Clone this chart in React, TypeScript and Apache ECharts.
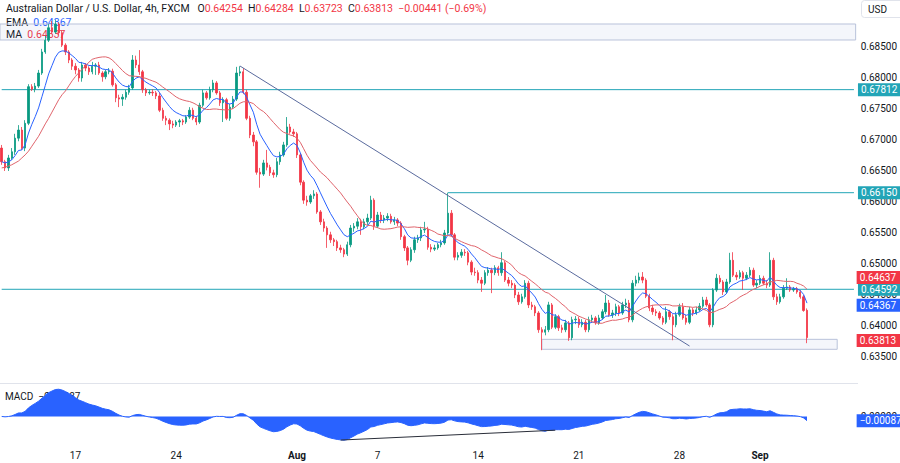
import React, { useEffect, useRef } from "react";
import * as echarts from "echarts";

// 4h candles, each [open, close, low, high]
const wkJul11: number[][] = [
  [0.6687, 0.6665, 0.6660, 0.6692], [0.6665, 0.6655, 0.6650, 0.6668], [0.6655, 0.6671, 0.6650, 0.6676],
  [0.6671, 0.6681, 0.6668, 0.6687], [0.6681, 0.6703, 0.6676, 0.6710], [0.6703, 0.6716, 0.6698, 0.6724],
  [0.6716, 0.6687, 0.6684, 0.6721], [0.6687, 0.6727, 0.6682, 0.6732], [0.6727, 0.6786, 0.6724, 0.6790],
  [0.6786, 0.6782, 0.6779, 0.6790], [0.6782, 0.6787, 0.6777, 0.6792], [0.6787, 0.6808, 0.6784, 0.6813],
  [0.6808, 0.6842, 0.6805, 0.6847], [0.6842, 0.6861, 0.6839, 0.6868], [0.6861, 0.6881, 0.6858, 0.6887],
  [0.6881, 0.6874, 0.6871, 0.6892], [0.6874, 0.6887, 0.6871, 0.6894], [0.6887, 0.6873, 0.6869, 0.6890],
  [0.6873, 0.6853, 0.6850, 0.6876], [0.6853, 0.6842, 0.6837, 0.6856], [0.6842, 0.6829, 0.6824, 0.6845],
  [0.6829, 0.6819, 0.6813, 0.6832],
];
const wkJul17: number[][] = [
  [0.6819, 0.6813, 0.6806, 0.6824], [0.6813, 0.6800, 0.6794, 0.6816], [0.6800, 0.6821, 0.6794, 0.6826],
  [0.6821, 0.6816, 0.6811, 0.6824], [0.6816, 0.6810, 0.6805, 0.6819], [0.6810, 0.6819, 0.6806, 0.6826],
  [0.6819, 0.6821, 0.6805, 0.6824], [0.6821, 0.6808, 0.6805, 0.6826], [0.6808, 0.6802, 0.6794, 0.6811],
  [0.6802, 0.6810, 0.6798, 0.6813], [0.6810, 0.6811, 0.6806, 0.6816], [0.6811, 0.6789, 0.6786, 0.6815],
  [0.6789, 0.6768, 0.6761, 0.6792], [0.6768, 0.6766, 0.6753, 0.6773], [0.6766, 0.6769, 0.6755, 0.6774],
  [0.6769, 0.6777, 0.6765, 0.6781], [0.6777, 0.6784, 0.6773, 0.6789], [0.6784, 0.6829, 0.6781, 0.6837],
  [0.6829, 0.6821, 0.6816, 0.6836], [0.6821, 0.6810, 0.6805, 0.6845], [0.6810, 0.6781, 0.6776, 0.6813],
  [0.6781, 0.6776, 0.6771, 0.6784], [0.6776, 0.6777, 0.6773, 0.6781], [0.6777, 0.6776, 0.6771, 0.6782],
  [0.6776, 0.6771, 0.6766, 0.6779], [0.6771, 0.6748, 0.6745, 0.6777], [0.6748, 0.6735, 0.6731, 0.6752],
  [0.6735, 0.6732, 0.6724, 0.6739], [0.6732, 0.6726, 0.6716, 0.6735], [0.6726, 0.6724, 0.6719, 0.6731],
];
const wkJul24: number[][] = [
  [0.6724, 0.6729, 0.6721, 0.6732], [0.6729, 0.6731, 0.6721, 0.6734], [0.6731, 0.6729, 0.6724, 0.6734],
  [0.6729, 0.6737, 0.6726, 0.6740], [0.6737, 0.6748, 0.6734, 0.6753], [0.6748, 0.6735, 0.6732, 0.6752],
  [0.6735, 0.6729, 0.6724, 0.6739], [0.6729, 0.6756, 0.6726, 0.6760], [0.6756, 0.6776, 0.6753, 0.6781],
  [0.6776, 0.6768, 0.6765, 0.6779], [0.6768, 0.6781, 0.6765, 0.6786], [0.6781, 0.6792, 0.6777, 0.6797],
  [0.6792, 0.6776, 0.6773, 0.6795], [0.6776, 0.6760, 0.6755, 0.6779], [0.6760, 0.6765, 0.6729, 0.6769],
  [0.6765, 0.6735, 0.6732, 0.6768], [0.6735, 0.6753, 0.6731, 0.6758], [0.6753, 0.6766, 0.6750, 0.6771],
  [0.6766, 0.6808, 0.6763, 0.6818], [0.6808, 0.6810, 0.6803, 0.6819], [0.6810, 0.6777, 0.6774, 0.6816],
  [0.6777, 0.6735, 0.6732, 0.6781], [0.6735, 0.6708, 0.6703, 0.6739], [0.6708, 0.6697, 0.6690, 0.6713],
  [0.6697, 0.6648, 0.6644, 0.6700], [0.6648, 0.6645, 0.6623, 0.6655], [0.6645, 0.6663, 0.6642, 0.6668],
  [0.6663, 0.6656, 0.6651, 0.6684], [0.6656, 0.6647, 0.6642, 0.6660], [0.6647, 0.6644, 0.6639, 0.6652],
];
const wkJul31: number[][] = [
  [0.6644, 0.6665, 0.6640, 0.6671], [0.6665, 0.6676, 0.6660, 0.6681], [0.6676, 0.6692, 0.6673, 0.6697],
  [0.6692, 0.6721, 0.6689, 0.6737], [0.6721, 0.6713, 0.6710, 0.6726], [0.6713, 0.6710, 0.6705, 0.6718],
  [0.6710, 0.6676, 0.6671, 0.6713], [0.6676, 0.6632, 0.6627, 0.6679], [0.6632, 0.6603, 0.6597, 0.6635],
  [0.6603, 0.6600, 0.6594, 0.6610], [0.6600, 0.6610, 0.6597, 0.6613], [0.6610, 0.6613, 0.6605, 0.6619],
  [0.6613, 0.6584, 0.6581, 0.6616], [0.6584, 0.6568, 0.6563, 0.6587], [0.6568, 0.6558, 0.6552, 0.6573],
  [0.6558, 0.6547, 0.6526, 0.6561], [0.6547, 0.6539, 0.6534, 0.6552], [0.6539, 0.6536, 0.6529, 0.6542],
  [0.6536, 0.6526, 0.6521, 0.6539], [0.6526, 0.6523, 0.6518, 0.6531], [0.6523, 0.6516, 0.6511, 0.6526],
  [0.6516, 0.6531, 0.6513, 0.6536], [0.6531, 0.6558, 0.6527, 0.6563], [0.6558, 0.6561, 0.6552, 0.6566],
  [0.6561, 0.6568, 0.6556, 0.6574], [0.6568, 0.6560, 0.6547, 0.6573], [0.6560, 0.6568, 0.6556, 0.6573],
  [0.6568, 0.6574, 0.6563, 0.6581], [0.6574, 0.6603, 0.6571, 0.6610], [0.6603, 0.6561, 0.6555, 0.6606],
];
const wkAug7: number[][] = [
  [0.6561, 0.6579, 0.6558, 0.6584], [0.6579, 0.6571, 0.6566, 0.6584], [0.6571, 0.6574, 0.6566, 0.6579],
  [0.6574, 0.6577, 0.6569, 0.6582], [0.6577, 0.6568, 0.6565, 0.6581], [0.6568, 0.6571, 0.6563, 0.6576],
  [0.6571, 0.6566, 0.6561, 0.6574], [0.6566, 0.6544, 0.6539, 0.6569], [0.6544, 0.6526, 0.6521, 0.6547],
  [0.6526, 0.6506, 0.6498, 0.6529], [0.6506, 0.6523, 0.6503, 0.6527], [0.6523, 0.6539, 0.6518, 0.6544],
  [0.6539, 0.6542, 0.6534, 0.6547], [0.6542, 0.6555, 0.6537, 0.6560], [0.6555, 0.6556, 0.6550, 0.6568],
  [0.6556, 0.6527, 0.6523, 0.6560], [0.6527, 0.6524, 0.6519, 0.6532], [0.6524, 0.6526, 0.6521, 0.6531],
  [0.6526, 0.6531, 0.6523, 0.6534], [0.6531, 0.6534, 0.6527, 0.6539], [0.6534, 0.6550, 0.6531, 0.6555],
  [0.6550, 0.6582, 0.6547, 0.6615], [0.6582, 0.6547, 0.6544, 0.6587], [0.6547, 0.6511, 0.6506, 0.6550],
  [0.6511, 0.6514, 0.6506, 0.6519], [0.6514, 0.6519, 0.6510, 0.6524], [0.6519, 0.6518, 0.6513, 0.6524],
  [0.6518, 0.6503, 0.6498, 0.6521], [0.6503, 0.6487, 0.6482, 0.6506], [0.6487, 0.6486, 0.6481, 0.6494],
];
const wkAug14: number[][] = [
  [0.6486, 0.6474, 0.6469, 0.6490], [0.6474, 0.6469, 0.6455, 0.6479], [0.6469, 0.6486, 0.6466, 0.6490],
  [0.6486, 0.6490, 0.6481, 0.6495], [0.6490, 0.6486, 0.6453, 0.6494], [0.6486, 0.6494, 0.6482, 0.6498],
  [0.6494, 0.6486, 0.6481, 0.6497], [0.6486, 0.6502, 0.6481, 0.6519], [0.6502, 0.6474, 0.6471, 0.6505],
  [0.6474, 0.6469, 0.6464, 0.6479], [0.6469, 0.6466, 0.6461, 0.6474], [0.6466, 0.6450, 0.6445, 0.6469],
  [0.6450, 0.6439, 0.6434, 0.6455], [0.6439, 0.6447, 0.6436, 0.6452], [0.6447, 0.6469, 0.6444, 0.6474],
  [0.6469, 0.6434, 0.6429, 0.6473], [0.6434, 0.6431, 0.6426, 0.6439], [0.6431, 0.6421, 0.6416, 0.6434],
  [0.6421, 0.6394, 0.6389, 0.6424], [0.6394, 0.6390, 0.6361, 0.6398], [0.6390, 0.6394, 0.6385, 0.6400],
  [0.6394, 0.6434, 0.6390, 0.6439], [0.6434, 0.6398, 0.6395, 0.6437], [0.6398, 0.6415, 0.6395, 0.6419],
  [0.6415, 0.6397, 0.6392, 0.6418], [0.6397, 0.6394, 0.6389, 0.6402], [0.6394, 0.6405, 0.6390, 0.6410],
  [0.6405, 0.6381, 0.6376, 0.6408], [0.6381, 0.6410, 0.6377, 0.6415], [0.6410, 0.6411, 0.6403, 0.6416],
];
const wkAug21: number[][] = [
  [0.6411, 0.6402, 0.6397, 0.6415], [0.6402, 0.6406, 0.6398, 0.6411], [0.6406, 0.6394, 0.6390, 0.6410],
  [0.6394, 0.6410, 0.6390, 0.6415], [0.6410, 0.6413, 0.6406, 0.6418], [0.6413, 0.6405, 0.6402, 0.6416],
  [0.6405, 0.6413, 0.6402, 0.6418], [0.6413, 0.6423, 0.6410, 0.6427], [0.6423, 0.6437, 0.6419, 0.6450],
  [0.6437, 0.6418, 0.6415, 0.6442], [0.6418, 0.6421, 0.6413, 0.6426], [0.6421, 0.6431, 0.6416, 0.6436],
  [0.6431, 0.6421, 0.6416, 0.6434], [0.6421, 0.6434, 0.6418, 0.6439], [0.6434, 0.6437, 0.6429, 0.6444],
  [0.6437, 0.6410, 0.6406, 0.6442], [0.6410, 0.6469, 0.6406, 0.6474], [0.6469, 0.6474, 0.6464, 0.6481],
  [0.6474, 0.6479, 0.6469, 0.6486], [0.6479, 0.6474, 0.6469, 0.6487], [0.6474, 0.6448, 0.6445, 0.6477],
  [0.6448, 0.6429, 0.6424, 0.6452], [0.6429, 0.6423, 0.6418, 0.6434], [0.6423, 0.6421, 0.6416, 0.6427],
  [0.6421, 0.6413, 0.6410, 0.6424], [0.6413, 0.6406, 0.6402, 0.6416], [0.6406, 0.6423, 0.6403, 0.6431],
  [0.6423, 0.6415, 0.6410, 0.6426], [0.6415, 0.6402, 0.6377, 0.6419], [0.6402, 0.6418, 0.6398, 0.6423],
];
const wkAug28: number[][] = [
  [0.6418, 0.6431, 0.6415, 0.6436], [0.6431, 0.6413, 0.6410, 0.6437], [0.6413, 0.6406, 0.6402, 0.6418],
  [0.6406, 0.6426, 0.6403, 0.6431], [0.6426, 0.6421, 0.6416, 0.6429], [0.6421, 0.6426, 0.6418, 0.6431],
  [0.6426, 0.6432, 0.6423, 0.6437], [0.6432, 0.6442, 0.6429, 0.6447], [0.6442, 0.6434, 0.6431, 0.6447],
  [0.6434, 0.6402, 0.6398, 0.6437], [0.6402, 0.6458, 0.6398, 0.6461], [0.6458, 0.6477, 0.6455, 0.6484],
  [0.6477, 0.6471, 0.6468, 0.6482], [0.6471, 0.6455, 0.6450, 0.6474], [0.6455, 0.6471, 0.6452, 0.6476],
  [0.6471, 0.6506, 0.6468, 0.6518], [0.6506, 0.6482, 0.6479, 0.6519], [0.6482, 0.6479, 0.6474, 0.6487],
  [0.6479, 0.6486, 0.6476, 0.6490], [0.6486, 0.6477, 0.6458, 0.6489], [0.6477, 0.6482, 0.6474, 0.6487],
  [0.6482, 0.6490, 0.6479, 0.6495], [0.6490, 0.6466, 0.6463, 0.6494], [0.6466, 0.6469, 0.6461, 0.6474],
  [0.6469, 0.6477, 0.6466, 0.6482], [0.6477, 0.6469, 0.6466, 0.6481], [0.6469, 0.6466, 0.6461, 0.6474],
  [0.6466, 0.6506, 0.6463, 0.6519], [0.6506, 0.6447, 0.6442, 0.6510], [0.6447, 0.6439, 0.6434, 0.6452],
];
const wkSep4: number[][] = [
  [0.6439, 0.6447, 0.6436, 0.6452], [0.6447, 0.6461, 0.6444, 0.6466], [0.6461, 0.6463, 0.6458, 0.6477],
  [0.6463, 0.6458, 0.6455, 0.6466], [0.6458, 0.6460, 0.6455, 0.6463], [0.6460, 0.6455, 0.6452, 0.6463],
  [0.6455, 0.6447, 0.6444, 0.6458], [0.6447, 0.6425, 0.6423, 0.6450], [0.64254, 0.63813, 0.63723, 0.64284],
];

// MA(20) values for the first candles (before 20 closes exist)
const maHead = [
  0.6655, 0.6656, 0.6658, 0.6660, 0.6663, 0.6666, 0.6671, 0.6676, 0.6682, 0.6690,
  0.6698, 0.6706, 0.6716, 0.6726, 0.6735, 0.6745, 0.6755, 0.6765, 0.6773,
];

const levelFull = [0.67812, 0.64592];
const levelBreak = 0.6615;
const breakStartIdx = 133;
const trendFrom: [number, number] = [71, 0.68194];
const trendTo: [number, number] = [205, 0.63677];
const zoneTop = [0.68871, 0.68613];
const zoneBottom = { from: 161, to: 249, hi: 0.63785, lo: 0.63624 };
const macdTrendFrom: [number, number] = [101, -0.0048];
const macdTrendTo: [number, number] = [165, -0.0028];

const headerTitle = "Australian Dollar / U.S. Dollar, 4h, FXCM";
const headerOHLC = { O: "0.64254", H: "0.64284", L: "0.63723", C: "0.63813" };
const headerChange = "−0.00441 (−0.69%)";
const emaLast = 0.64367;
const maLast = 0.64637;
const lastClose = 0.63813;
const macdLast = -0.00087;

const candles = [
  ...wkJul11, ...wkJul17, ...wkJul24, ...wkJul31, ...wkAug7, ...wkAug14, ...wkAug21, ...wkAug28, ...wkSep4,
];

const SLOTS = 255;
const FIRST_SLOT = 2;
const MONTHS = ["Jan", "Feb", "Mar", "Apr", "May", "Jun", "Jul", "Aug", "Sep", "Oct", "Nov", "Dec"];

const cats: string[] = [];
const candidates: { i: number; text: string; bold: boolean }[] = [];
{
  let k = 0;
  for (let t = Date.UTC(2023, 6, 11); cats.length < SLOTS; t += 86400000) {
    const d = new Date(t);
    const wd = d.getUTCDay();
    if (wd === 0 || wd === 6) continue;
    for (let s = 0; s < 6; s++, k++) {
      const i = k - FIRST_SLOT;
      if (i < 0 || cats.length >= SLOTS) continue;
      cats.push(`${d.getUTCFullYear()}-${d.getUTCMonth() + 1}-${d.getUTCDate()} ${s * 4}:00`);
      const first = d.getUTCDate() === 1;
      if (s === 0 && (wd === 1 || first)) {
        candidates.push({ i, text: first ? MONTHS[d.getUTCMonth()] : String(d.getUTCDate()), bold: first });
      }
    }
  }
}
const labelMap = new Map<number, { text: string; bold: boolean }>();
{
  let lastKept = -100;
  candidates.forEach((c) => {
    if (!c.bold && candidates.some((o) => o.bold && o !== c && Math.abs(o.i - c.i) < 15)) return;
    if (c.i - lastKept < 15) return;
    labelMap.set(c.i, c);
    lastKept = c.i;
  });
}

function ema(src: number[], n: number): number[] {
  const k = 2 / (n + 1);
  const out: number[] = [];
  let prev = src[0];
  src.forEach((v, i) => {
    prev = i === 0 ? v : v * k + prev * (1 - k);
    out.push(prev);
  });
  return out;
}

export default function App() {
  const ref = useRef<HTMLDivElement>(null);
  useEffect(() => {
    if (!ref.current) return;
    const chart = echarts.init(ref.current, null, { renderer: "svg" });
    const closes = candles.map((c) => c[1]);
    const emaLine = ema(closes, 9);
    const maLine = closes.map((_, i) => {
      if (i < 19) return maHead[i];
      let s = 0;
      for (let j = i - 19; j <= i; j++) s += closes[j];
      return s / 20;
    });
    const e12 = ema(closes, 12);
    const e26 = ema(closes, 26);
    const macd = e12.map((v, i) => v - e26[i]);

    const FONT = "Roboto, 'Noto Sans', sans-serif";
    const UP = "#089981";
    const DOWN = "#f23645";
    const TEAL = "#22a5b7";
    const BLUE = "#2962ff";
    const TEXT = "#131722";
    const TREND = "#5a6b9e";
    const PMIN = 0.63, PMAX = 0.69258, PH = 388;
    const perPx = (PMAX - PMIN) / PH;

    const tag = (text: string, bg: string) => ({
      show: true,
      position: "end",
      formatter: text,
      backgroundColor: bg,
      color: "#ffffff",
      fontSize: 10,
      fontFamily: FONT,
      padding: [2, 6, 1, 3],
      distance: 1,
    });
    const hidden = { color: "transparent", width: 0 };
    const levelSeries = (from: number, v: number) => ({
      type: "line", xAxisIndex: 0, yAxisIndex: 0, silent: true, symbol: "none", z: 2,
      data: [[from, v], [SLOTS - 1, v]],
      lineStyle: { color: TEAL, width: 1, type: "solid" },
      endLabel: {
        show: true, formatter: v.toFixed(5), backgroundColor: TEAL, color: "#ffffff",
        fontSize: 10, fontFamily: FONT, padding: [2, 6, 1, 3], distance: 4,
      },
    });

    const option: any = {
      animation: false,
      backgroundColor: "#ffffff",
      textStyle: { fontFamily: FONT },
      grid: [
        { left: 0, right: 42, top: 0, height: PH },
        { left: 0, right: 42, top: 384, height: 59 },
      ],
      xAxis: [
        {
          type: "category", gridIndex: 0, data: cats,
          axisLine: { show: false }, axisTick: { show: false }, axisLabel: { show: false }, splitLine: { show: false },
        },
        {
          type: "category", gridIndex: 1, data: cats,
          axisLine: { show: false }, axisTick: { show: false }, splitLine: { show: false },
          axisLabel: {
            interval: (i: number) => labelMap.has(i),
            formatter: (_v: string, i: number) => {
              const l = labelMap.get(i);
              return l ? (l.bold ? `{b|${l.text}}` : l.text) : "";
            },
            color: TEXT, fontSize: 10, margin: 7, fontFamily: FONT,
            rich: { b: { fontWeight: "bold", fontSize: 10, color: TEXT, fontFamily: FONT } },
          },
        },
      ],
      yAxis: [
        {
          type: "value", gridIndex: 0, position: "right", min: PMIN, max: PMAX, interval: 0.005,
          axisLine: { show: false }, axisTick: { show: false }, splitLine: { show: false },
          axisLabel: {
            color: TEXT, fontSize: 10, margin: 5, fontFamily: FONT,
            showMaxLabel: false,
            formatter: (v: number) => (v > 0.686 || v < 0.632 ? "" : v.toFixed(5)),
          },
        },
        {
          type: "value", gridIndex: 1, position: "right", min: -0.0054, max: 0.0066, interval: 0.0006,
          axisLine: { show: false }, axisTick: { show: false }, splitLine: { show: false },
          axisLabel: {
            color: TEXT, fontSize: 10, margin: 5, fontFamily: FONT,
            formatter: (v: number) => (Math.abs(v) < 1e-9 ? "0.00000" : ""),
          },
        },
      ],
      series: [
        levelSeries(0, levelFull[0]),
        levelSeries(0, levelFull[1]),
        levelSeries(breakStartIdx, levelBreak),
        {
          type: "candlestick", xAxisIndex: 0, yAxisIndex: 0, data: candles, barWidth: 1.9,
          itemStyle: { color: UP, color0: DOWN, borderColor: UP, borderColor0: DOWN, borderWidth: 0.8 },
          markArea: {
            silent: true,
            itemStyle: { color: "rgba(120,140,200,0.08)", borderColor: "#b9c2da", borderWidth: 1 },
            data: [
              [{ yAxis: zoneTop[0] }, { yAxis: zoneTop[1] }],
              [{ coord: [zoneBottom.from, zoneBottom.hi] }, { coord: [zoneBottom.to, zoneBottom.lo] }],
            ],
          },
          markLine: {
            silent: true, symbol: ["none", "none"], animation: false, precision: 8,
            data: [
              [
                { coord: trendFrom, lineStyle: { color: TREND, width: 1, type: "solid" }, label: { show: false } },
                { coord: trendTo, lineStyle: { color: TREND, width: 1, type: "solid" }, label: { show: false } },
              ],
              { yAxis: maLast + 9 * perPx, lineStyle: hidden, label: tag(maLast.toFixed(5), DOWN) },
              { yAxis: emaLast - 2 * perPx, lineStyle: hidden, label: tag(emaLast.toFixed(5), BLUE) },
              { yAxis: lastClose - 3 * perPx, lineStyle: hidden, label: tag(lastClose.toFixed(5), DOWN) },
            ],
          },
          z: 3,
        },
        {
          type: "line", xAxisIndex: 0, yAxisIndex: 0, data: emaLine, symbol: "none", silent: true,
          lineStyle: { color: BLUE, width: 1 }, z: 4,
        },
        {
          type: "line", xAxisIndex: 0, yAxisIndex: 0, data: maLine, symbol: "none", silent: true,
          lineStyle: { color: "#e0646c", width: 1 }, z: 4,
        },
        {
          type: "line", xAxisIndex: 1, yAxisIndex: 1, data: macd, symbol: "none", silent: true,
          lineStyle: { color: BLUE, width: 1 }, areaStyle: { color: BLUE, opacity: 1 },
          markLine: {
            silent: true, symbol: ["none", "none"], animation: false, precision: 8,
            data: [
              { yAxis: macdLast, lineStyle: hidden, label: tag("−0.00087", BLUE) },
              [
                { coord: macdTrendFrom, lineStyle: { color: "#2a2e39", width: 1, type: "solid" }, label: { show: false } },
                { coord: macdTrendTo, lineStyle: { color: "#2a2e39", width: 1, type: "solid" }, label: { show: false } },
              ],
            ],
          },
        },
      ],
      graphic: [
        {
          type: "text", x: 6, y: 8,
          style: {
            text: `${headerTitle}   O{r|${headerOHLC.O}}  H{r|${headerOHLC.H}}  L{r|${headerOHLC.L}}  C{r|${headerOHLC.C}}  {r|${headerChange}}`,
            fill: TEXT, font: `10.5px ${FONT}`, verticalAlign: "middle",
            rich: { r: { fill: DOWN, font: `10.5px ${FONT}` } },
          },
        },
        {
          type: "text", x: 6, y: 22,
          style: { text: `EMA  {b|${emaLast.toFixed(5)}}`, fill: TEXT, font: `10.5px ${FONT}`, verticalAlign: "middle", rich: { b: { fill: BLUE, font: `10.5px ${FONT}` } } },
        },
        {
          type: "text", x: 6, y: 34,
          style: { text: `MA  {r|${maLast.toFixed(5)}}`, fill: TEXT, font: `10.5px ${FONT}`, verticalAlign: "middle", rich: { r: { fill: DOWN, font: `10.5px ${FONT}` } } },
        },
        {
          type: "text", x: 5, y: 396, z: -1,
          style: { text: "MACD  −0.00087", fill: TEXT, font: `10px ${FONT}`, verticalAlign: "middle" },
        },
        {
          type: "line", shape: { x1: 0, y1: 383.5, x2: 858, y2: 383.5 }, style: { stroke: "#e0e3eb", lineWidth: 1 },
        },
        {
          type: "rect", shape: { x: 861.5, y: 0.5, width: 42, height: 17, r: 3 }, style: { fill: "#ffffff", stroke: "#e0e3eb" },
        },
        {
          type: "text", x: 868, y: 9, style: { text: "USD", fill: TEXT, font: `10px ${FONT}`, verticalAlign: "middle" },
        },
      ],
    };
    chart.setOption(option);
    return () => chart.dispose();
  }, []);
  return <div ref={ref} style={{ position: "fixed", left: 0, top: 0, width: 900, height: 463 }} />;
}
